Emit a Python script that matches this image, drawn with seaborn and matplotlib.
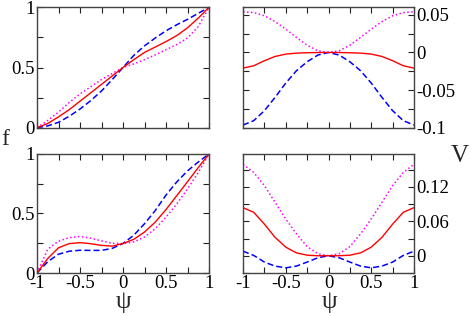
import numpy as np
import pandas as pd
import matplotlib
matplotlib.use("Agg")
import matplotlib.pyplot as plt
from matplotlib.ticker import MultipleLocator, FuncFormatter
import seaborn as sns

# ---------------- data ----------------
psi = [-1.0, -0.875, -0.75, -0.625, -0.5, -0.375, -0.25, -0.125, 0.0,
       0.125, 0.25, 0.375, 0.5, 0.625, 0.75, 0.875, 1.0]

# top-left: f(psi)
f1_red = [0.0, 0.035, 0.09, 0.15, 0.22, 0.29, 0.36, 0.43, 0.5,
          0.565, 0.625, 0.67, 0.715, 0.765, 0.83, 0.91, 1.0]
f1_blue = [0.0, 0.015, 0.045, 0.095, 0.155, 0.225, 0.305, 0.4, 0.5,
           0.6, 0.68, 0.745, 0.805, 0.855, 0.9, 0.95, 1.0]
f1_mag = [0.0, 0.06, 0.13, 0.21, 0.28, 0.34, 0.40, 0.45, 0.5,
          0.53, 0.565, 0.605, 0.648, 0.69, 0.745, 0.84, 1.0]

# top-right: V(psi)
v1_red = [-0.0208, -0.0177, -0.011, -0.0053, -0.0022, -0.0009, -0.0004, -0.0001, 0.0,
          -0.0001, -0.0004, -0.0009, -0.0022, -0.0053, -0.011, -0.0177, -0.0208]
v1_blue = [-0.0965, -0.0907, -0.0774, -0.0597, -0.0407, -0.0243, -0.0124, -0.0035, 0.0,
           -0.0035, -0.0124, -0.0243, -0.0407, -0.0597, -0.0774, -0.0907, -0.0965]
v1_mag = [0.054, 0.053, 0.0487, 0.041, 0.031, 0.020, 0.0097, 0.0022, 0.0,
          0.0022, 0.0097, 0.020, 0.031, 0.041, 0.0487, 0.053, 0.054]

# bottom-left: f(psi)
f2_red = [0.0, 0.122, 0.212, 0.247, 0.255, 0.246, 0.232, 0.226, 0.248,
          0.283, 0.344, 0.428, 0.533, 0.65, 0.767, 0.886, 1.0]
f2_blue = [0.0, 0.095, 0.158, 0.183, 0.191, 0.19, 0.19, 0.207, 0.248,
           0.317, 0.414, 0.525, 0.655, 0.765, 0.858, 0.933, 1.0]
f2_mag = [0.0, 0.2, 0.267, 0.297, 0.307, 0.292, 0.27, 0.25, 0.247,
          0.261, 0.303, 0.372, 0.47, 0.58, 0.706, 0.844, 1.0]

# bottom-right: V(psi)
v2_red = [0.0837, 0.0756, 0.055, 0.032, 0.015, 0.005, 0.001, 0.0, 0.0,
          0.0, 0.001, 0.005, 0.015, 0.032, 0.055, 0.0756, 0.0837]
v2_blue = [0.008, 0.0006, -0.011, -0.018, -0.021, -0.018, -0.011, -0.0035, 0.0,
           -0.0035, -0.011, -0.018, -0.021, -0.018, -0.011, 0.0006, 0.008]
v2_mag = [0.159, 0.145, 0.122, 0.093, 0.064, 0.038, 0.016, 0.0035, 0.0,
          0.0035, 0.016, 0.038, 0.064, 0.093, 0.122, 0.145, 0.159]

# ---------------- style ----------------
sns.set_theme(style="ticks")
plt.rcParams["font.family"] = ["Liberation Serif", "DejaVu Serif"]
plt.rcParams["axes.unicode_minus"] = False

fig = plt.figure(figsize=(4.71, 3.16), dpi=100)

L1, R1 = 37 / 471, 209 / 471
L2, R2 = 243 / 471, 414 / 471
T1, B1 = 1 - 7.3 / 316, 1 - 127.7 / 316
T2, B2 = 1 - 154 / 316, 1 - 273 / 316

ax_tl = fig.add_axes([L1, B1, R1 - L1, T1 - B1])
ax_tr = fig.add_axes([L2, B1, R2 - L2, T1 - B1])
ax_bl = fig.add_axes([L1, B2, R1 - L1, T2 - B2])
ax_br = fig.add_axes([L2, B2, R2 - L2, T2 - B2])

RED = "#ff0000"
BLUE = "#0000ff"
MAG = "#ff00ff"
STY = {
    "red": dict(color=RED, linestyle="-", linewidth=1.0),
    "blue": dict(color=BLUE, linestyle=(0, (4, 2)), linewidth=1.1),
    "mag": dict(color=MAG, linestyle=(0, (1, 1.6)), linewidth=1.1),
}


def draw(ax, red, blue, mag):
    df = pd.DataFrame({"psi": psi, "red": red, "blue": blue, "mag": mag})
    for key in ["mag", "blue", "red"]:
        sns.lineplot(data=df, x="psi", y=key, ax=ax, **STY[key])
    ax.set_xlabel("")
    ax.set_ylabel("")


draw(ax_tl, f1_red, f1_blue, f1_mag)
draw(ax_tr, v1_red, v1_blue, v1_mag)
draw(ax_bl, f2_red, f2_blue, f2_mag)
draw(ax_br, v2_red, v2_blue, v2_mag)

fmt = FuncFormatter(lambda v, p: "%g" % round(v, 6))

for ax in [ax_tl, ax_tr, ax_bl, ax_br]:
    ax.set_xlim(-1, 1)
    ax.xaxis.set_major_locator(MultipleLocator(0.5))
    ax.xaxis.set_minor_locator(MultipleLocator(0.25))
    ax.xaxis.set_major_formatter(fmt)
    ax.tick_params(which="both", direction="in", top=True, bottom=True,
                   left=True, right=True, length=4, width=0.8,
                   colors="#222222", labelcolor="black", labelsize=13.5, pad=1.5)
    for s in ax.spines.values():
        s.set_linewidth(1.0)
        s.set_color("#444444")
    ax.yaxis.set_major_formatter(fmt)

for ax in [ax_tl, ax_bl]:
    ax.set_ylim(0, 1)
    ax.yaxis.set_major_locator(MultipleLocator(0.5))
    ax.yaxis.set_minor_locator(MultipleLocator(0.25))

ax_tr.set_ylim(-0.1, 0.06)
ax_tr.yaxis.set_major_locator(MultipleLocator(0.05))
ax_tr.yaxis.set_minor_locator(MultipleLocator(0.025))
ax_br.set_ylim(-0.03, 0.177)
ax_br.yaxis.set_major_locator(MultipleLocator(0.06))
ax_br.yaxis.set_minor_locator(MultipleLocator(0.03))

for ax in [ax_tr, ax_br]:
    ax.tick_params(axis="y", labelleft=False, labelright=True)
for ax in [ax_tl, ax_tr]:
    ax.tick_params(axis="x", labelbottom=False)

fig.text(0.012, 0.56, "f", fontsize=17, ha="center", va="center")
fig.text(0.976, 0.505, "V", fontsize=18, ha="center", va="center")
fig.text(0.262, 0.045, "ψ", fontsize=18, ha="center", va="center")
fig.text(0.700, 0.045, "ψ", fontsize=18, ha="center", va="center")

fig.savefig("out.png", dpi=100)
